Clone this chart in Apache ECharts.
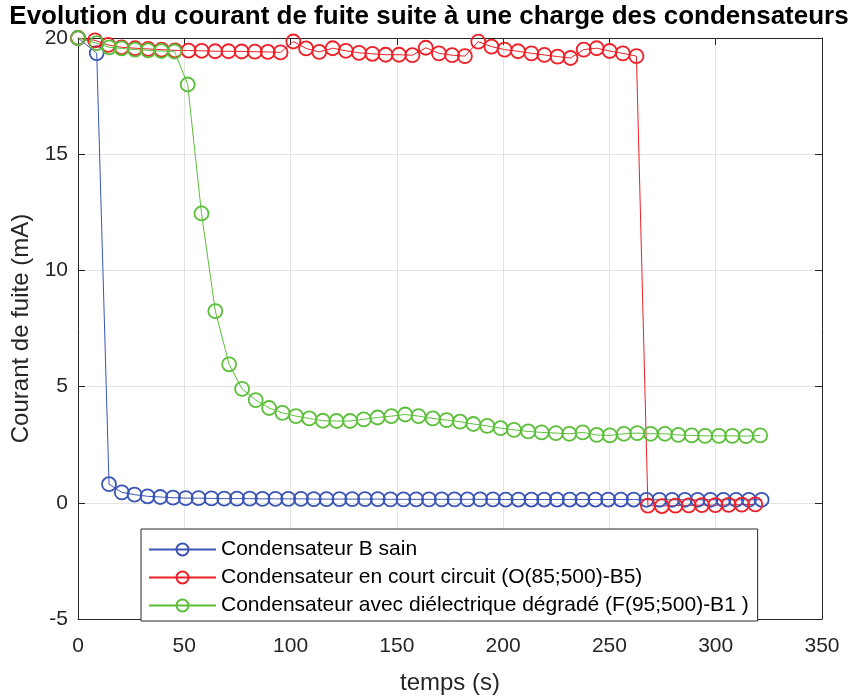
<!DOCTYPE html>
<html>
<head>
<meta charset="utf-8">
<script src="https://cdn.jsdelivr.net/npm/echarts@6/dist/echarts.min.js"></script>
<style>html,body{margin:0;padding:0;background:#fff;}#c{width:858px;height:700px;}</style>
</head>
<body>
<div id="c"></div>
<script>
var seriesNames = ['Condensateur B sain', 'Condensateur en court circuit (O(85;500)-B5)', 'Condensateur avec diélectrique dégradé (F(95;500)-B1 )'];
var xTicks = [0, 50, 100, 150, 200, 250, 300, 350];
var yTicks = [-5, 0, 5, 10, 15, 20];

var blueT = [0, 8.8, 14.6, 20.6, 26.6, 32.7, 38.7, 44.7, 50.7, 56.7, 62.8, 68.8, 74.8, 80.8, 86.8, 92.9, 98.9, 104.9, 110.9, 116.9, 123.0, 129.0, 135.0, 141.0, 147.0, 153.1, 159.1, 165.1, 171.1, 177.1, 183.2, 189.2, 195.2, 201.2, 207.2, 213.3, 219.3, 225.3, 231.3, 237.3, 243.4, 249.4, 255.4, 261.4, 267.4, 273.5, 279.5, 285.5, 291.5, 297.5, 303.6, 309.6, 315.6, 321.6];
var blueI = [20, 19.35, 0.8, 0.45, 0.35, 0.28, 0.25, 0.22, 0.2, 0.2, 0.19, 0.18, 0.18, 0.18, 0.17, 0.17, 0.17, 0.17, 0.16, 0.16, 0.16, 0.16, 0.16, 0.16, 0.15, 0.15, 0.15, 0.15, 0.15, 0.15, 0.15, 0.15, 0.15, 0.14, 0.14, 0.14, 0.14, 0.14, 0.14, 0.14, 0.14, 0.14, 0.14, 0.14, 0.13, 0.13, 0.13, 0.13, 0.13, 0.13, 0.13, 0.13, 0.13, 0.13];

var redT = [0, 8.0, 14.2, 20.5, 26.8, 33.0, 39.3, 45.6, 52.0, 58.2, 64.5, 70.8, 77.0, 83.2, 89.3, 95.3, 101.3, 107.3, 113.5, 119.8, 126.0, 132.2, 138.5, 144.7, 151.0, 157.3, 163.6, 169.8, 176.0, 182.0, 188.3, 194.5, 200.7, 207.0, 213.3, 219.4, 225.6, 231.7, 237.9, 244.0, 250.1, 256.3, 262.7, 268.1, 274.7, 281.0, 287.3, 293.5, 299.8, 306.1, 312.3, 318.6];
var redI = [20, 19.9, 19.7, 19.6, 19.56, 19.53, 19.5, 19.47, 19.46, 19.45, 19.43, 19.43, 19.42, 19.41, 19.4, 19.38, 19.85, 19.55, 19.4, 19.56, 19.45, 19.36, 19.32, 19.28, 19.28, 19.26, 19.58, 19.34, 19.26, 19.22, 19.84, 19.63, 19.5, 19.43, 19.34, 19.27, 19.2, 19.14, 19.5, 19.56, 19.44, 19.34, 19.22, -0.12, -0.14, -0.12, -0.11, -0.1, -0.1, -0.09, -0.08, -0.07];

var greenT = [0, 8.8, 14.7, 20.5, 26.8, 33.0, 39.2, 45.4, 51.6, 58.1, 64.6, 71.1, 77.2, 83.6, 89.9, 96.2, 102.5, 108.8, 115.2, 121.6, 128.0, 134.4, 140.9, 147.4, 153.9, 160.2, 166.9, 173.4, 179.7, 186.0, 192.5, 198.8, 205.1, 211.8, 218.1, 224.8, 231.1, 237.4, 244.0, 250.2, 256.8, 263.1, 269.4, 276.1, 282.4, 288.7, 295.0, 301.5, 307.8, 314.3, 320.9];
var greenI = [20, 19.78, 19.6, 19.55, 19.5, 19.47, 19.44, 19.42, 18.0, 12.45, 8.25, 5.96, 4.9, 4.42, 4.08, 3.87, 3.73, 3.63, 3.53, 3.52, 3.52, 3.59, 3.67, 3.73, 3.8, 3.73, 3.63, 3.56, 3.49, 3.39, 3.31, 3.21, 3.14, 3.07, 3.03, 3.0, 2.97, 3.03, 2.92, 2.9, 2.97, 3.0, 2.97, 2.97, 2.92, 2.9, 2.88, 2.88, 2.88, 2.87, 2.9];

var colors = ['#3a55b4', '#ee1f26', '#5cbf3a'];
var FONT = "'Liberation Sans', Arial, sans-serif";
var AX = '#262626';

function pairs(t, v) { return t.map(function (x, i) { return [x, v[i]]; }); }

function mkSeries(name, t, v, c) {
  return {
    name: name, type: 'line', data: pairs(t, v),
    xAxisIndex: 0, yAxisIndex: 0,
    symbol: 'circle', symbolSize: 14, showAllSymbol: true,
    lineStyle: { color: c, width: 1 },
    itemStyle: { color: 'rgba(255,255,255,0)', borderColor: c, borderWidth: 1.8 },
    emphasis: { disabled: true },
    animation: false
  };
}

var chart = echarts.init(document.getElementById('c'), null, { renderer: 'canvas' });
var xmin = xTicks[0], xmax = xTicks[xTicks.length - 1];
var ymin = yTicks[0], ymax = yTicks[yTicks.length - 1];
var baseAxis = {
  type: 'value',
  axisLine: { show: true, onZero: false, lineStyle: { color: AX, width: 1 } },
  axisTick: { show: true, inside: true, length: 7, lineStyle: { color: AX } }
};
chart.setOption({
  animation: false,
  backgroundColor: '#fff',
  title: {
    text: 'Evolution du courant de fuite suite à une charge des condensateurs',
    left: 'center', top: 4, padding: 0,
    textStyle: { fontFamily: FONT, fontSize: 26, fontWeight: 'bold', color: '#000' }
  },
  grid: { left: 78, top: 38, right: 36, bottom: 71, containLabel: false },
  xAxis: [
    Object.assign({}, baseAxis, {
      position: 'bottom', min: xmin, max: xmax, interval: 50,
      axisLabel: { fontFamily: FONT, fontSize: 21, color: AX, margin: 17 },
      splitLine: { show: true, lineStyle: { color: '#e3e3e3', width: 1 } },
      name: 'temps (s)', nameLocation: 'middle', nameGap: 52,
      nameTextStyle: { fontFamily: FONT, fontSize: 24, color: AX }
    }),
    Object.assign({}, baseAxis, {
      position: 'top', min: xmin, max: xmax, interval: 50,
      axisLabel: { show: false }, splitLine: { show: false }
    })
  ],
  yAxis: [
    Object.assign({}, baseAxis, {
      position: 'left', min: ymin, max: ymax, interval: 5,
      axisLabel: { fontFamily: FONT, fontSize: 21, color: AX, margin: 10 },
      splitLine: { show: true, lineStyle: { color: '#e3e3e3', width: 1 } },
      name: 'Courant de fuite (mA)', nameLocation: 'middle', nameGap: 42,
      nameTextStyle: { fontFamily: FONT, fontSize: 24, color: AX }
    }),
    Object.assign({}, baseAxis, {
      position: 'right', min: ymin, max: ymax, interval: 5,
      axisLabel: { show: false }, splitLine: { show: false }
    })
  ],
  legend: {
    orient: 'vertical', left: 141, top: 529,
    itemWidth: 67, itemHeight: 15, itemGap: 7,
    padding: [10, 9, 5, 7],
    borderColor: AX, borderWidth: 1, backgroundColor: '#fff',
    textStyle: { fontFamily: FONT, fontSize: 21, color: '#000' },
    data: seriesNames,
    selectedMode: false
  },
  series: [
    mkSeries(seriesNames[0], blueT, blueI, colors[0]),
    mkSeries(seriesNames[1], redT, redI, colors[1]),
    mkSeries(seriesNames[2], greenT, greenI, colors[2])
  ]
});
</script>
</body>
</html>
